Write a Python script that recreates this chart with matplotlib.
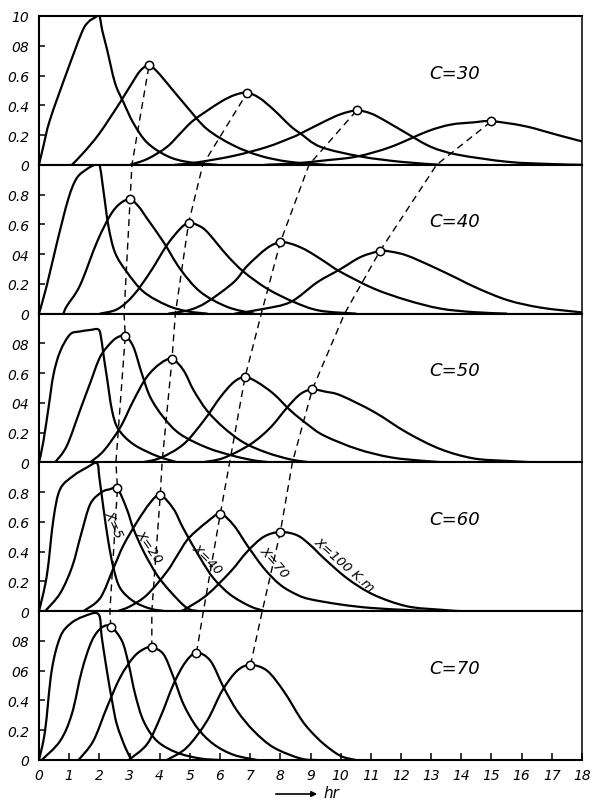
import numpy as np
import matplotlib
matplotlib.use('Agg')
import matplotlib.pyplot as plt
from matplotlib.path import Path
from matplotlib.patches import PathPatch, FancyArrowPatch

# outflow curves, (hr, ratio), one list per distance X
c30_x5 = [(0, 0), (0.14, 0.12), (0.36, 0.30), (0.9, 0.61), (1.42, 0.89), (1.64, 0.96), (1.86, 0.99), (2.0, 1.0),
          (2.1, 0.9), (2.25, 0.78), (2.52, 0.55), (2.8, 0.42), (3.13, 0.28), (3.58, 0.15), (4.24, 0.06), (4.9, 0.02), (5.9, 0)]
c30_x20 = [(1.09, 0), (1.47, 0.08), (2.0, 0.21), (2.69, 0.42), (3.24, 0.60), (3.45, 0.65), (3.65, 0.67), (3.9, 0.63),
           (4.24, 0.55), (4.9, 0.39), (5.57, 0.24), (6.45, 0.13), (7.34, 0.06), (8.3, 0.02), (9.5, 0)]
c30_x40 = [(3.02, 0), (3.6, 0.04), (4.24, 0.12), (4.68, 0.21), (5.13, 0.30), (6.0, 0.42), (6.5, 0.47), (6.9, 0.484),
           (7.3, 0.45), (7.78, 0.37), (8.34, 0.26), (8.67, 0.21), (9.34, 0.12), (10.66, 0.056), (12.0, 0.02), (13.3, 0)]
c30_x70 = [(4.5, 0), (5.2, 0.015), (6.45, 0.06), (7.56, 0.12), (8.34, 0.18), (8.67, 0.21), (9.45, 0.29), (10.0, 0.34),
           (10.53, 0.365), (11.0, 0.345), (11.44, 0.30), (12.2, 0.21), (13.0, 0.12), (13.88, 0.068), (15.54, 0.02),
           (17.0, 0.005), (18.0, 0)]
c30_x100 = [(7.5, 0), (8.5, 0.01), (9.5, 0.03), (10.55, 0.056), (11.66, 0.12), (12.88, 0.225), (13.65, 0.27),
            (14.4, 0.285), (15.0, 0.293), (16.1, 0.26), (17.2, 0.20), (18.0, 0.157)]

c40_x5 = [(0, 0), (0.26, 0.19), (0.6, 0.48), (0.97, 0.77), (1.25, 0.91), (1.58, 0.97), (1.8, 0.995), (2.0, 1.0),
          (2.14, 0.82), (2.3, 0.59), (2.52, 0.41), (2.91, 0.28), (3.47, 0.146), (4.24, 0.056), (4.9, 0.016), (5.57, 0)]
c40_x20 = [(0.81, 0), (0.92, 0.05), (1.36, 0.19), (1.92, 0.48), (2.36, 0.66), (2.69, 0.74), (3.02, 0.767), (3.3, 0.72),
           (3.58, 0.64), (4.13, 0.48), (4.68, 0.30), (5.35, 0.146), (6.24, 0.045), (7.12, 0)]
c40_x40 = [(2.03, 0), (2.6, 0.03), (3.13, 0.123), (3.69, 0.28), (4.24, 0.46), (4.68, 0.57), (4.96, 0.61), (5.25, 0.595),
           (5.57, 0.55), (6.24, 0.39), (6.79, 0.28), (7.56, 0.168), (8.45, 0.078), (9.3, 0.02), (10.5, 0)]
c40_x70 = [(4.3, 0), (5.0, 0.025), (5.57, 0.078), (6.45, 0.21), (6.9, 0.32), (7.56, 0.44), (8.0, 0.48), (8.34, 0.47),
           (8.67, 0.445), (9.0, 0.41), (9.5, 0.345), (10.0, 0.28), (11.1, 0.168), (12.2, 0.09), (13.3, 0.034),
           (14.4, 0.01), (15.5, 0)]
c40_x100 = [(6.5, 0), (7.4, 0.03), (8.34, 0.078), (9.22, 0.21), (10.0, 0.30), (10.66, 0.38), (11.3, 0.42), (11.7, 0.415),
            (12.2, 0.39), (13.0, 0.32), (13.88, 0.235), (14.54, 0.17), (15.54, 0.09), (16.64, 0.04), (18.0, 0.008)]

c50_x5 = [(0, 0), (0.14, 0.135), (0.31, 0.36), (0.48, 0.59), (0.7, 0.745), (1.03, 0.86), (1.36, 0.88), (1.7, 0.89),
          (1.95, 0.895), (2.04, 0.86), (2.14, 0.72), (2.25, 0.573), (2.42, 0.35), (2.63, 0.224), (3.13, 0.122),
          (3.91, 0.043), (4.6, 0)]
c50_x20 = [(0.53, 0), (0.92, 0.11), (1.36, 0.35), (1.69, 0.53), (2.03, 0.71), (2.41, 0.81), (2.65, 0.845), (2.86, 0.85),
           (3.13, 0.776), (3.41, 0.596), (3.69, 0.438), (4.13, 0.302), (4.68, 0.19), (5.57, 0.099), (6.46, 0.043),
           (7.23, 0.01), (7.8, 0)]
c50_x40 = [(1.69, 0), (2.14, 0.077), (2.69, 0.234), (3.13, 0.415), (3.57, 0.573), (4.02, 0.664), (4.41, 0.695),
           (4.79, 0.619), (5.13, 0.483), (5.57, 0.348), (6.12, 0.234), (6.79, 0.133), (7.56, 0.065), (8.34, 0.02), (9.0, 0)]
c50_x70 = [(3.4, 0), (4.02, 0.03), (4.79, 0.122), (5.46, 0.28), (6.01, 0.438), (6.46, 0.54), (6.83, 0.573), (7.23, 0.54),
           (7.78, 0.46), (8.34, 0.348), (8.89, 0.257), (9.45, 0.18), (10.55, 0.09), (11.66, 0.034), (12.77, 0.01), (13.5, 0)]
c50_x100 = [(5.4, 0), (6.12, 0.03), (7.01, 0.122), (7.67, 0.234), (8.23, 0.37), (8.67, 0.46), (9.06, 0.49), (9.5, 0.475),
            (10.0, 0.45), (11.1, 0.34), (12.2, 0.20), (13.3, 0.09), (14.4, 0.027), (15.5, 0.01), (16.5, 0)]

c60_x5 = [(0, 0), (0.26, 0.24), (0.48, 0.62), (0.7, 0.82), (1.14, 0.91), (1.58, 0.965), (1.92, 0.995), (2.0, 0.90),
          (2.14, 0.687), (2.3, 0.466), (2.47, 0.29), (2.69, 0.155), (3.13, 0.067), (3.69, 0.017), (4.2, 0)]
c60_x20 = [(0.2, 0), (0.7, 0.12), (1.1, 0.3), (1.4, 0.52), (1.7, 0.72), (2.08, 0.8), (2.36, 0.82), (2.6, 0.825),
           (2.91, 0.687), (3.13, 0.554), (3.47, 0.40), (3.91, 0.244), (4.35, 0.133), (4.9, 0.022), (5.3, 0)]
c60_x40 = [(1.47, 0), (2.03, 0.089), (2.47, 0.29), (2.8, 0.443), (3.25, 0.6), (3.69, 0.73), (4.02, 0.78), (4.46, 0.687),
           (4.79, 0.554), (5.35, 0.355), (5.79, 0.22), (6.35, 0.11), (7.0, 0.033), (7.5, 0)]
c60_x70 = [(2.6, 0), (3.02, 0.033), (3.58, 0.11), (4.24, 0.266), (4.6, 0.38), (4.96, 0.49), (5.57, 0.6), (6.01, 0.654),
           (6.46, 0.576), (6.9, 0.443), (7.45, 0.29), (8.0, 0.177), (8.56, 0.11), (9.0, 0.08), (10.0, 0.045),
           (11.0, 0.022), (12.2, 0.008), (13.0, 0)]
c60_x100 = [(4.7, 0), (4.9, 0.02), (5.57, 0.11), (6.35, 0.266), (6.9, 0.40), (7.45, 0.5), (8.0, 0.532), (8.56, 0.51),
            (9.0, 0.443), (9.45, 0.355), (10.22, 0.22), (11.1, 0.11), (12.2, 0.033), (13.3, 0.01), (14.0, 0)]

c70_x5 = [(0, 0), (0.2, 0.195), (0.42, 0.60), (0.7, 0.825), (1.03, 0.914), (1.47, 0.964), (1.97, 0.98), (2.08, 0.825),
          (2.25, 0.60), (2.42, 0.40), (2.58, 0.24), (2.86, 0.084), (3.07, 0)]
c70_x20 = [(0.09, 0), (0.7, 0.128), (1.09, 0.31), (1.42, 0.60), (1.75, 0.80), (2.08, 0.89), (2.38, 0.896), (2.75, 0.80),
           (2.97, 0.645), (3.19, 0.44), (3.47, 0.26), (3.91, 0.128), (4.57, 0.05), (5.35, 0.01), (6.0, 0)]
c70_x40 = [(1.31, 0), (1.8, 0.128), (2.25, 0.353), (2.69, 0.555), (3.13, 0.69), (3.47, 0.745), (3.74, 0.757), (4.13, 0.71),
           (4.46, 0.555), (4.79, 0.375), (5.24, 0.218), (5.79, 0.106), (6.46, 0.034), (7.23, 0)]
c70_x70 = [(2.97, 0), (3.58, 0.106), (4.02, 0.286), (4.46, 0.51), (4.85, 0.656), (5.22, 0.72), (5.68, 0.667), (6.12, 0.488),
           (6.57, 0.33), (7.12, 0.195), (7.78, 0.084), (8.67, 0.01), (9.2, 0)]
c70_x100 = [(4.24, 0), (4.9, 0.084), (5.57, 0.263), (6.07, 0.465), (6.57, 0.60), (7.01, 0.638), (7.56, 0.60), (8.12, 0.46),
            (8.67, 0.28), (9.0, 0.195), (9.45, 0.106), (10.0, 0.027), (10.5, 0)]

c_values = ['C=30', 'C=40', 'C=50', 'C=60', 'C=70']
panel_curves = [
    [c30_x5, c30_x20, c30_x40, c30_x70, c30_x100],
    [c40_x5, c40_x20, c40_x40, c40_x70, c40_x100],
    [c50_x5, c50_x20, c50_x40, c50_x70, c50_x100],
    [c60_x5, c60_x20, c60_x40, c60_x70, c60_x100],
    [c70_x5, c70_x20, c70_x40, c70_x70, c70_x100],
]

# where the dashed peak lines cross the panel borders, bottom border first
cross_x20 = [2.35, 2.55, 2.82, 3.08]
cross_x40 = [3.74, 4.08, 4.52, 5.43]
cross_x70 = [5.45, 6.32, 7.37, 8.95]
cross_x100 = [7.4, 8.4, 10.13, 13.18]
crossings = [cross_x20, cross_x40, cross_x70, cross_x100]

ytick_vals_top = [0, 0.2, 0.4, 0.6, 0.8, 1.0]
ytick_vals = [0, 0.2, 0.4, 0.6, 0.8]
ytick_labels = [
    ['0', '0.2', '0.4', '0.6', '08', '10'],
    ['0', '0.2', '04', '0.6', '0.8'],
    ['0', '0.2', '04', '0.6', '08'],
    ['0', '0.2', '0.4', '0.6', '0.8'],
    ['0', '0.2', '0.4', '06', '08'],
]
xtick_vals = list(range(0, 19))

curve_labels = ['X=5', 'X=20', 'X=40', 'X=70', 'X=100 K.m']
label_pos = [(2.47, 0.59, -66), (3.65, 0.44, -55), (5.59, 0.355, -45), (7.79, 0.33, -49), (10.13, 0.316, -41)]


def smooth_path(pts):
    # bezier pieces through the read points (catmull-rom style handles)
    P = np.array(pts, dtype=float)
    n = len(P)
    verts = [P[0]]
    codes = [Path.MOVETO]
    for i in range(n - 1):
        p0 = P[i - 1] if i > 0 else P[i]
        p1, p2 = P[i], P[i + 1]
        p3 = P[i + 2] if i + 2 < n else P[i + 1]
        verts += [p1 + (p2 - p0) / 6.0, p2 - (p3 - p1) / 6.0, p2]
        codes += [Path.CURVE4] * 3
    return Path(verts, codes)


fig = plt.figure(figsize=(5.92, 8.04), dpi=100)
L, R, T, B = 39 / 592, 582 / 592, 1 - 17 / 804, 1 - 761 / 804
gs = fig.add_gridspec(5, 1, left=L, right=R, top=T, bottom=B, hspace=0)
axes = [fig.add_subplot(gs[i]) for i in range(5)]

for i, ax in enumerate(axes):
    for curve in panel_curves[i]:
        ax.add_patch(PathPatch(smooth_path(curve), fill=False, edgecolor='black', lw=1.6,
                               joinstyle='round', capstyle='round'))
    ax.set_xlim(0, 18)
    ax.set_ylim(0, 1)
    for s in ax.spines.values():
        s.set_linewidth(1.5)
    ax.spines['right'].set_linewidth(1.1)
    vals = ytick_vals_top if i == 0 else ytick_vals
    ax.set_yticks(vals)
    ax.set_yticklabels(ytick_labels[i], fontstyle='italic', fontsize=10)
    ax.tick_params(axis='y', direction='in', length=4, width=1.1, pad=7)
    ax.text(13.77, 0.62, c_values[i], fontsize=13, fontstyle='italic', ha='center', va='center')
    if i < 4:
        ax.tick_params(axis='x', bottom=False, labelbottom=False)
    else:
        ax.set_xticks(xtick_vals)
        ax.set_xticklabels([str(v) for v in xtick_vals], fontstyle='italic', fontsize=10)
        ax.tick_params(axis='x', direction='in', length=5, width=1.1, pad=6)

for (x, y, rot), txt in zip(label_pos, curve_labels):
    axes[3].text(x, y, txt, fontsize=9.5, fontstyle='italic', rotation=rot, ha='center', va='center',
                 rotation_mode='anchor')

# dashed lines joining the peaks, drawn on one axes covering all five panels
over = fig.add_axes([L, B, R - L, T - B])
over.set_xlim(0, 18)
over.set_ylim(0, 5)
over.axis('off')
for k, cross in enumerate(crossings):
    px, py = [], []
    for i in range(4, -1, -1):
        xs, ys = zip(*panel_curves[i][k + 1])
        j = int(np.argmax(ys))
        base = 4 - i
        px.append(xs[j])
        py.append(base + ys[j])
        if i > 0:
            px.append(cross[4 - i])
            py.append(base + 1)
    over.plot(px, py, color='black', lw=1.0, linestyle=(0, (5, 3.5)))
    over.plot(px[0::2], py[0::2], linestyle='none', marker='o', ms=6, mfc='white', mec='black', mew=1.1, zorder=5)

fig.text(323 / 592, 1 - 794 / 804, 'hr', fontsize=11, fontstyle='italic', ha='left', va='center')
fig.add_artist(FancyArrowPatch((273 / 592, 1 - 795 / 804), (320 / 592, 1 - 795 / 804),
                               transform=fig.transFigure, arrowstyle='-|>', mutation_scale=8,
                               color='black', lw=1.2))

plt.savefig('out.png', dpi=100)
